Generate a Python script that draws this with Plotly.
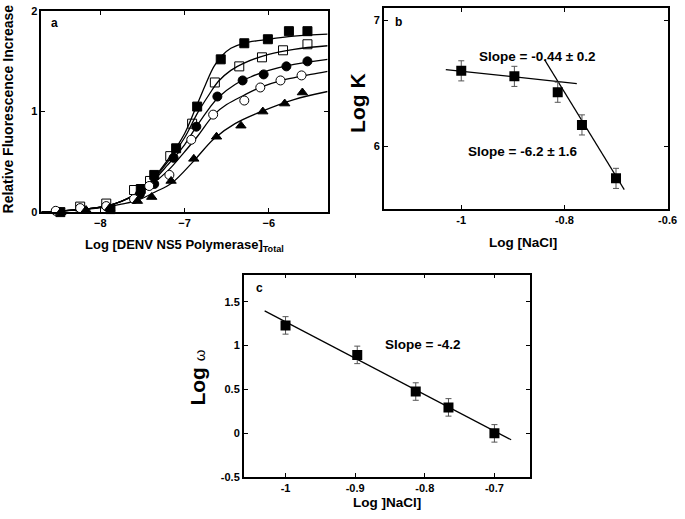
import plotly.graph_objects as go

W, H = 685, 519
FONT = "Liberation Sans"

# ---- panel a : titration data ----
fsq_x = [-8.475, -7.88, -7.52, -7.36, -7.10, -6.85, -6.57, -6.29, -6.01, -5.76, -5.54]
fsq_y = [0.00, 0.03, 0.23, 0.37, 0.635, 1.05, 1.52, 1.68, 1.72, 1.80, 1.80]
osq_x = [-8.55, -8.24, -7.93, -7.60, -7.41, -7.17, -6.91, -6.64, -6.35, -6.08, -5.83, -5.54]
osq_y = [-0.01, 0.055, 0.085, 0.22, 0.31, 0.557, 0.88, 1.29, 1.45, 1.54, 1.61, 1.67]
fci_x = [-7.53, -7.36, -7.13, -6.86, -6.61, -6.31, -6.06, -5.79, -5.54]
fci_y = [0.18, 0.28, 0.54, 0.85, 1.15, 1.31, 1.37, 1.45, 1.50]
oci_x = [-8.53, -8.24, -7.93, -7.60, -7.42, -7.18, -6.92, -6.66, -6.29, -6.10, -5.86, -5.61]
oci_y = [0.013, 0.04, 0.06, 0.13, 0.26, 0.37, 0.72, 0.97, 1.11, 1.24, 1.31, 1.36]
tri_x = [-8.47, -8.17, -7.89, -7.56, -7.39, -7.16, -6.89, -6.62, -6.33, -6.07, -5.81, -5.60]
tri_y = [0.0, 0.02, 0.04, 0.11, 0.15, 0.31, 0.53, 0.75, 0.86, 1.00, 1.08, 1.19]

# fitted curves
fit_fsq_x = [-8.7, -8.5, -8.2, -7.9, -7.6, -7.4, -7.2, -7.0, -6.88, -6.75, -6.65, -6.55, -6.45, -6.3, -6.0, -5.7, -5.3]
fit_fsq_y = [0.0, 0.01, 0.03, 0.065, 0.17, 0.31, 0.52, 0.78, 1.01, 1.27, 1.45, 1.56, 1.63, 1.68, 1.72, 1.75, 1.77]
fit_osq_x = [-8.7, -8.5, -8.2, -7.9, -7.6, -7.4, -7.2, -7.0, -6.85, -6.7, -6.6, -6.45, -6.3, -6.0, -5.7, -5.3]
fit_osq_y = [0.0, 0.01, 0.03, 0.065, 0.17, 0.3, 0.5, 0.74, 0.98, 1.18, 1.3, 1.41, 1.48, 1.57, 1.62, 1.655]
fit_fci_x = [-8.7, -8.5, -8.2, -7.9, -7.6, -7.4, -7.2, -7.0, -6.86, -6.7, -6.6, -6.4, -6.2, -6.0, -5.7, -5.3]
fit_fci_y = [0.0, 0.01, 0.03, 0.065, 0.17, 0.29, 0.47, 0.67, 0.85, 1.04, 1.14, 1.27, 1.35, 1.41, 1.47, 1.52]
fit_oci_x = [-8.7, -8.5, -8.2, -7.9, -7.6, -7.4, -7.2, -7.0, -6.85, -6.65, -6.5, -6.3, -6.1, -5.8, -5.5, -5.3]
fit_oci_y = [0.0, 0.01, 0.03, 0.065, 0.16, 0.27, 0.41, 0.6, 0.75, 0.97, 1.07, 1.16, 1.24, 1.32, 1.37, 1.40]
fit_tri_x = [-8.7, -8.5, -8.2, -7.94, -7.75, -7.55, -7.35, -7.15, -6.9, -6.65, -6.4, -6.06, -5.7, -5.3]
fit_tri_y = [0.0, 0.01, 0.025, 0.05, 0.08, 0.12, 0.2, 0.29, 0.5, 0.73, 0.88, 1.01, 1.12, 1.20]

# ---- panel b : Log K vs Log [NaCl] ----
nacl = [-1.0, -0.897, -0.813, -0.766, -0.700]
logk = [6.60, 6.556, 6.43, 6.17, 5.745]
logk_err = [0.08, 0.08, 0.08, 0.08, 0.08]
line1_x = [-1.03, -0.776]
line1_y = [6.61, 6.499]
line2_x = [-0.838, -0.684]
line2_y = [6.685, 5.656]

# ---- panel c : Log omega vs Log [NaCl] ----
logw = [1.23, 0.893, 0.474, 0.293, -0.004]
logw_err = [0.1, 0.1, 0.1, 0.1, 0.1]
line3_x = [-1.03, -0.676]
line3_y = [1.396, -0.078]


def px(x):
    return x / W


def py(y):
    return 1 - y / H


fig = go.Figure()

# panel a
curves = [(fit_fsq_x, fit_fsq_y), (fit_osq_x, fit_osq_y), (fit_fci_x, fit_fci_y),
          (fit_oci_x, fit_oci_y), (fit_tri_x, fit_tri_y)]
for cx, cy in curves:
    fig.add_trace(go.Scatter(x=cx, y=cy, mode="lines", line=dict(color="black", width=1.3, shape="spline"),
                             xaxis="x", yaxis="y", hoverinfo="skip"))

pts = [(fsq_x, fsq_y, "square", "black"), (osq_x, osq_y, "square-open", "black"),
       (fci_x, fci_y, "circle", "black"), (oci_x, oci_y, "circle", "white"),
       (tri_x, tri_y, "triangle-up", "black")]
for x, y, sym, col in pts:
    fig.add_trace(go.Scatter(x=x, y=y, mode="markers", cliponaxis=False,
                             marker=dict(symbol=sym, size=9, color=col, line=dict(color="black", width=1)),
                             xaxis="x", yaxis="y"))

# panel b
for lx, ly in [(line1_x, line1_y), (line2_x, line2_y)]:
    fig.add_trace(go.Scatter(x=lx, y=ly, mode="lines", line=dict(color="black", width=1.2),
                             xaxis="x2", yaxis="y2"))
fig.add_trace(go.Scatter(x=nacl, y=logk, mode="markers",
                         error_y=dict(type="data", array=logk_err, color="#555", thickness=1, width=3),
                         marker=dict(symbol="square", size=10, color="black"),
                         xaxis="x2", yaxis="y2"))

# panel c
fig.add_trace(go.Scatter(x=line3_x, y=line3_y, mode="lines", line=dict(color="black", width=1.2),
                         xaxis="x3", yaxis="y3"))
fig.add_trace(go.Scatter(x=nacl, y=logw, mode="markers",
                         error_y=dict(type="data", array=logw_err, color="#555", thickness=1, width=3),
                         marker=dict(symbol="square", size=10, color="black"),
                         xaxis="x3", yaxis="y3"))

tickfont = dict(family=FONT, size=11, color="black", weight="bold")
ax = dict(showgrid=False, zeroline=False, showline=True, linecolor="black", linewidth=1.5,
          mirror="ticks", ticks="inside", ticklen=4, tickcolor="black", tickfont=tickfont,
          ticklabeloverflow="allow")

fig.update_layout(
    width=W, height=H, showlegend=False,
    paper_bgcolor="white", plot_bgcolor="white",
    margin=dict(l=0, r=0, t=0, b=0),
    xaxis=dict(ax, domain=[px(42), px(332)], range=[-8.7, -5.3], tickvals=[-8, -7, -6], anchor="y"),
    yaxis=dict(ax, domain=[py(211), py(5)], range=[0, 2.002], tickvals=[0, 1, 2], anchor="x"),
    xaxis2=dict(ax, domain=[px(389), px(677)], range=[-1.15, -0.599], tickvals=[-1, -0.8, -0.6],
                ticktext=["-1", "-0.8", "-0.6"], anchor="y2"),
    yaxis2=dict(ax, domain=[py(208), py(2)], range=[5.5, 7.1], tickvals=[6, 7], anchor="x2"),
    xaxis3=dict(ax, domain=[px(247), px(537)], range=[-1.06, -0.649], tickvals=[-1, -0.9, -0.8, -0.7],
                ticktext=["-1", "-0.9", "-0.8", "-0.7"], anchor="y3"),
    yaxis3=dict(ax, domain=[py(482), py(275)], range=[-0.501, 1.81], tickvals=[-0.5, 0, 0.5, 1, 1.5],
                ticktext=["-0.5", "0", "0.5", "1", "1.5"], anchor="x3"),
)


def label(x, y, text, size, angle=0, bold=True):
    fig.add_annotation(x=px(x), y=py(y), xref="paper", yref="paper", text=text, showarrow=False,
                       textangle=angle, xanchor="center", yanchor="middle",
                       font=dict(family=FONT, size=size, color="black", weight="bold" if bold else "normal"))


label(55, 17, "a", 12)
label(404, 16, "b", 12)
label(263, 289, "c", 12)
label(8, 105, "Relative Fluorescence Increase", 14, angle=-90)
label(187, 245, "Log [DENV NS5 Polymerase]<sub>Total</sub>", 13)
label(362, 100, "Log K", 21, angle=-90)
label(530, 242, "Log [NaCl]", 13.5)
label(545, 52, "Slope = -0.44 ± 0.2", 13.5)
label(530, 149, "Slope = -6.2 ± 1.6", 13.5)
label(200, 380, "Log <span style='font-size:15px;font-weight:normal'>ω</span>", 21, angle=-90)
label(392, 508, "Log ]NaCl]", 13.5)
label(428, 347, "Slope = -4.2", 13.5)

# page body has a default 8px margin; drop it so the figure sits at the window corner
fig.write_html("out.html", config={"displayModeBar": False},
               post_script="document.body.style.margin='0';")
